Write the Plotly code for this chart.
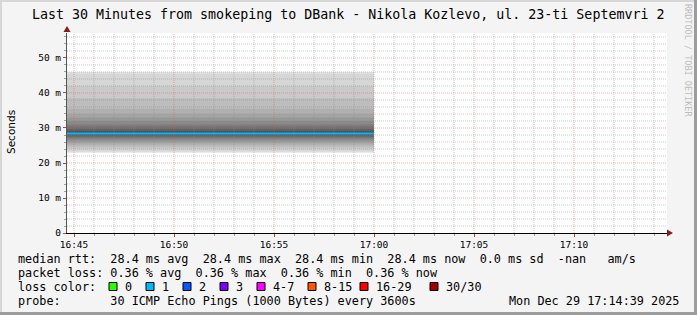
import plotly.graph_objects as go
import pandas as pd

# ---------------- data ----------------
title = "Last 30 Minutes from smokeping to DBank - Nikola Kozlevo, ul. 23-ti Septemvri 2"
range_start = "2025-12-29 16:44:39"
range_end = "2025-12-29 17:14:39"
step_start = "2025-12-29 16:00:00"
step_end = "2025-12-29 17:00:00"
# 30 sorted ping RTTs (ms) for the single step
pings = [22.9, 23.3, 23.9, 24.5, 25.1, 25.6, 26.1, 26.5, 26.9, 27.3,
         27.6, 27.9, 28.1, 28.3, 28.4, 28.4, 28.6, 28.9, 29.3, 29.8,
         30.4, 31.1, 32.0, 33.0, 34.0, 35.5, 38.5, 42.0, 45.5, 46.0]
median_rtt = 28.4
y_tick_vals = [0, 10, 20, 30, 40, 50]
y_tick_text = ["0", "10 m", "20 m", "30 m", "40 m", "50 m"]
legend_lines = [
    "median rtt:  28.4 ms avg  28.4 ms max  28.4 ms min  28.4 ms now  0.0 ms sd  -nan   am/s",
    "packet loss: 0.36 % avg  0.36 % max  0.36 % min  0.36 % now",
    "loss color:",
    "probe:       30 ICMP Echo Pings (1000 Bytes) every 3600s",
]
loss_labels = ["0", "1", "2", "3", "4-7", "8-15", "16-29", "30/30"]
loss_colors = ["#26ff00", "#00b8ff", "#0059ff", "#7e00ff", "#ff00ff", "#ff5500", "#ff0000", "#a00000"]
timestamp = "Mon Dec 29 17:14:39 2025"

# ---------------- layout geometry ----------------
W, H = 697, 315
L, R, T, B = 67, 30, 33, 82
PW, PH = W - L - R, H - T - B
YMAX = 57.14


def px(x):
    return (x - L) / PW


def py(y):
    return (H - B - y) / PH


MONO = "DejaVu Sans Mono"
LEG_SIZE = 11.8

fig = go.Figure()

# smoke layers (smokeping style)
n = len(pings)
half = n / 2
for ibot in range(1, n // 2 + 1):
    itop = n + 1 - ibot
    lo, hi = pings[ibot - 1], pings[itop - 1]
    g = int(190 / half * (half - ibot)) + 50
    col = "#%02x%02x%02x" % (g, g, g)
    fig.add_trace(go.Scatter(
        x=[step_start, step_end, step_end, step_start, step_start],
        y=[lo, lo, hi, hi, lo],
        mode="lines", fill="toself", fillcolor=col,
        line=dict(width=0), hoverinfo="skip", showlegend=False))

# median line
fig.add_trace(go.Scatter(
    x=[step_start, step_end], y=[median_rtt, median_rtt],
    mode="lines", line=dict(color=loss_colors[1], width=2),
    showlegend=False, hoverinfo="skip"))

shapes = []
# grid lines drawn above the smoke
minor_grid = "rgba(140,140,140,0.45)"
major_grid = "rgba(210,90,90,0.45)"
for t in pd.date_range("2025-12-29 16:45:00", "2025-12-29 17:14:00", freq="1min"):
    major = t.minute % 5 == 0
    shapes.append(dict(type="line", xref="x", yref="paper", x0=t, x1=t, y0=0, y1=1,
                       layer="above",
                       line=dict(color=major_grid if major else minor_grid, width=1, dash="1px,1px")))
for v in range(2, 57, 2):
    major = v % 10 == 0
    shapes.append(dict(type="line", xref="paper", yref="y", x0=0, x1=1, y0=v, y1=v,
                       layer="above",
                       line=dict(color=major_grid if major else minor_grid, width=1, dash="1px,1px")))

# axis arrows
arrow_col = "#8b1a1a"
shapes.append(dict(type="path", xref="paper", yref="paper", layer="above",
                   path="M %f %f L %f %f L %f %f Z" % (px(667), py(229.5), px(673), py(233), px(667), py(236.5)),
                   fillcolor=arrow_col, line=dict(width=0)))
shapes.append(dict(type="path", xref="paper", yref="paper", layer="above",
                   path="M %f %f L %f %f L %f %f Z" % (px(63.5), py(32), px(67), py(26), px(70.5), py(32)),
                   fillcolor=arrow_col, line=dict(width=0)))

# image frame
shapes.append(dict(type="rect", xref="paper", yref="paper", x0=px(0), x1=px(2), y0=py(H), y1=py(0),
                   fillcolor="#d6d6d6", line=dict(width=0), layer="above"))
shapes.append(dict(type="rect", xref="paper", yref="paper", x0=px(0), x1=px(W), y0=py(2), y1=py(0),
                   fillcolor="#d6d6d6", line=dict(width=0), layer="above"))
shapes.append(dict(type="rect", xref="paper", yref="paper", x0=px(W - 3), x1=px(W), y0=py(H), y1=py(0),
                   fillcolor="#9c9c9c", line=dict(width=0), layer="above"))
shapes.append(dict(type="rect", xref="paper", yref="paper", x0=px(0), x1=px(W), y0=py(H), y1=py(H - 3),
                   fillcolor="#9c9c9c", line=dict(width=0), layer="above"))

annotations = []
annotations.append(dict(text=title, xref="paper", yref="paper", x=px(348), y=py(14),
                        xanchor="center", yanchor="middle", showarrow=False,
                        font=dict(family=MONO, size=13.3, color="#000000")))
annotations.append(dict(text="Seconds", xref="paper", yref="paper", x=px(11), y=py(132),
                        xanchor="center", yanchor="middle", textangle=-90, showarrow=False,
                        font=dict(family="DejaVu Sans", size=10.5, color="#000000")))
annotations.append(dict(text="RRDTOOL / TOBI OETIKER", xref="paper", yref="paper", x=px(688), y=py(60),
                        xanchor="center", yanchor="middle", textangle=90, showarrow=False,
                        font=dict(family=MONO, size=8.5, color="#bdbdbd")))
row_y = [258.5, 272.5, 286.5, 300.5]
for line, yy in zip(legend_lines, row_y):
    annotations.append(dict(text=line.replace(" ", "&nbsp;"), xref="paper", yref="paper", x=px(16), y=py(yy),
                            xanchor="left", yanchor="middle", showarrow=False,
                            font=dict(family=MONO, size=LEG_SIZE, color="#000000")))
annotations.append(dict(text=timestamp, xref="paper", yref="paper", x=px(681), y=py(row_y[3]),
                        xanchor="right", yanchor="middle", showarrow=False,
                        font=dict(family=MONO, size=LEG_SIZE, color="#000000")))
box_x = [109, 146, 183, 220, 257, 308, 360, 430]
for bx, lab, col in zip(box_x, loss_labels, loss_colors):
    shapes.append(dict(type="rect", xref="paper", yref="paper", layer="above",
                       x0=px(bx), x1=px(bx + 8), y0=py(290.5), y1=py(282.5),
                       fillcolor=col, line=dict(color="#000000", width=1)))
    annotations.append(dict(text=lab, xref="paper", yref="paper", x=px(bx + 14), y=py(row_y[2]),
                            xanchor="left", yanchor="middle", showarrow=False,
                            font=dict(family=MONO, size=LEG_SIZE, color="#000000")))

fig.update_layout(
    width=W, height=H,
    margin=dict(l=L, r=R, t=T, b=B, pad=0),
    paper_bgcolor="#f4f4f4", plot_bgcolor="#ffffff",
    showlegend=False,
    shapes=shapes, annotations=annotations,
    xaxis=dict(type="date", range=[range_start, range_end],
               tick0="2025-12-29 16:45:00", dtick=300000, tickformat="%H:%M",
               showgrid=False, zeroline=False,
               showline=True, linecolor="#000000", linewidth=1,
               ticks="outside", ticklen=3, tickcolor="#c04040",
               minor=dict(dtick=60000, ticks="outside", ticklen=2, tickcolor="#a0a0a0", showgrid=False),
               tickfont=dict(family=MONO, size=9.5, color="#000000")),
    yaxis=dict(range=[0, YMAX], tickvals=y_tick_vals, ticktext=y_tick_text,
               showgrid=False, zeroline=False,
               showline=True, linecolor="#555555", linewidth=1,
               ticks="outside", ticklen=3, tickcolor="#c04040",
               minor=dict(dtick=2, ticks="outside", ticklen=2, tickcolor="#a0a0a0", showgrid=False),
               tickfont=dict(family=MONO, size=9.5, color="#000000")),
)

fig.write_html("out.html")
